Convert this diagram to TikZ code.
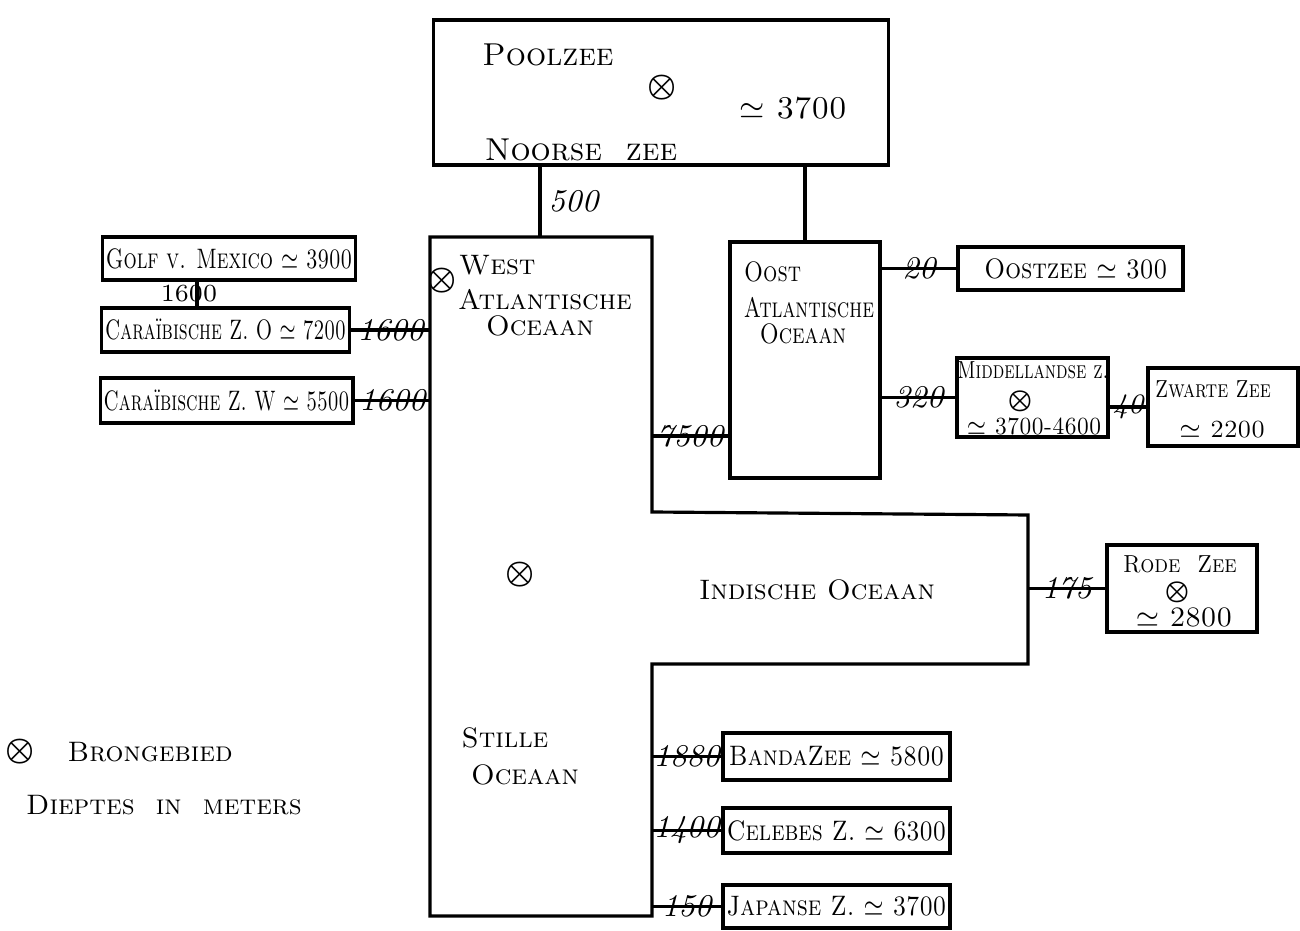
\documentclass[tikz,border=0pt]{standalone}
\usepackage{fontspec}
\usepackage{tikz}
\usetikzlibrary{positioning,calc}
\newcommand{\cnd}[2][0.8]{\scalebox{#1}[1]{#2}}
\tikzset{
  box/.style={draw, line width=0.9pt, inner sep=1pt, font=\fontsize{8}{9.5}\selectfont\scshape},
  lbl/.style={font=\fontsize{8}{10}\selectfont\scshape, inner sep=1pt},
  big/.style={lbl, font=\fontsize{9}{11}\selectfont\scshape},
  sml/.style={lbl, font=\fontsize{7}{8.5}\selectfont\scshape},
  num/.style={font=\fontsize{9}{10}\selectfont\itshape, inner sep=0pt},
  src/.style={font=\fontsize{9}{10}\selectfont\boldmath, inner sep=0pt},
  ssrc/.style={src, font=\fontsize{7}{8}\selectfont\boldmath},
  l/.style={line width=0.9pt},
}
\begin{document}
\begin{tikzpicture}[x=0.01cm,y=-0.01cm]
  \useasboundingbox (0,0) rectangle (1300,931);
  % noordelijke zeeen
  \node[box,minimum width=4.54cm,minimum height=1.45cm] (pool) at (661,92.5) {};
  \node[big] (poolt) at (548,55) {Poolzee};
  \node[src] (pools) at (662,88) {$\otimes$};
  \node[big] (poold) at (793,108) {$\simeq$ 3700};
  \node[big] (noors) at (581,150) {Noorse\ \ zee};
  % atlantische, indische en stille oceaan
  \coordinate (wa-nw) at (430,237); \coordinate (wa-ne) at (652,237);
  \coordinate (io-nw) at (652,512); \coordinate (io-ne) at (1028,515);
  \coordinate (io-se) at (1028,664); \coordinate (so-ne) at (652,664);
  \coordinate (so-se) at (652,916); \coordinate (so-sw) at (430,916);
  \draw[l] (wa-nw) -- (wa-ne) -- (io-nw) -- (io-ne) -- (io-se) -- (so-ne) -- (so-se) -- (so-sw) -- cycle;
  \node[src] (wests) at (442,281) {$\otimes$};
  \node[lbl,anchor=west] (westt) at (455,265) {West};
  \node[lbl] (westa) at (545,300) {Atlantische};
  \node[lbl] (westo) at (540,326) {Oceaan};
  \node[src] (inds) at (520,575) {$\otimes$};
  \node[lbl] (indt) at (817,590) {Indische\ Oceaan};
  \node[lbl] (stilt) at (505,738) {Stille};
  \node[lbl] (stilo) at (525,775) {Oceaan};
  \node[box,minimum width=1.50cm,minimum height=2.36cm] (oost) at (805,360) {};
  \node[lbl,anchor=west] (oostt) at (740,272) {\cnd{Oost}};
  \node[lbl] (oosta) at (809,308) {\cnd[0.75]{Atlantische}};
  \node[lbl] (oosto) at (803,334) {\cnd{Oceaan}};
  % randzeeen
  \node[box,minimum width=2.52cm,minimum height=0.43cm] (golf) at (229,258.5) {\cnd[0.74]{Golf v. Mexico $\simeq$ 3900}};
  \node[box,minimum width=2.45cm,minimum height=0.44cm] (carO) at (225.5,330) {\cnd[0.69]{Caraïbische Z. O $\simeq$ 7200}};
  \node[box,minimum width=2.47cm,minimum height=0.45cm] (carW) at (226.5,400.5) {\cnd[0.69]{Caraïbische Z. W $\simeq$ 5500}};
  \node[box,minimum width=2.25cm,minimum height=0.43cm] (oostzee) at (1070.5,268.5) {\ \cnd[0.88]{Oostzee $\simeq$ 300}};
  \node[box,minimum width=1.51cm,minimum height=0.79cm] (mid) at (1032.5,397.5) {};
  \node[sml] (midt) at (1033,370) {\cnd[0.75]{Middellandse z.}};
  \node[ssrc] (mids) at (1020,401) {$\otimes$};
  \node[sml] (midd) at (1034,426) {\cnd[0.9]{$\simeq$ 3700-4600}};
  \node[box,minimum width=1.50cm,minimum height=0.78cm] (zwart) at (1223,407) {};
  \node[sml] (zwartt) at (1213,389) {\cnd{Zwarte Zee}};
  \node[sml] (zwartd) at (1222,430) {$\simeq$ 2200};
  \node[box,minimum width=1.50cm,minimum height=0.87cm] (rode) at (1182,588.5) {};
  \node[sml] (rodet) at (1180,564) {\cnd[0.9]{Rode\ \ Zee}};
  \node[ssrc] (rodes) at (1177,592) {$\otimes$};
  \node[lbl] (rodd) at (1184,617) {$\simeq$ 2800};
  \node[box,minimum width=2.27cm,minimum height=0.47cm] (banda) at (836.5,756.5) {\cnd[0.87]{BandaZee $\simeq$ 5800}};
  \node[box,minimum width=2.27cm,minimum height=0.45cm] (celeb) at (836.5,830.5) {\cnd[0.85]{Celebes Z. $\simeq$ 6300}};
  \node[box,minimum width=2.27cm,minimum height=0.43cm] (japan) at (836.5,906.5) {\cnd[0.86]{Japanse Z. $\simeq$ 3700}};
  % verbindingen met drempeldiepte
  \coordinate (d500) at (540,237); \coordinate (d7500) at (652,436);
  \coordinate (d1600) at (197,0);
  \draw[l] (d500 |- pool.south) -- node[num,right=2pt] {500} (d500);
  \draw[l] (oost.north |- pool.south) -- (oost.north);
  \draw[l] (d1600 |- golf.south) -- node[num,font=\fontsize{7}{8}\selectfont,xshift=-0.8mm] {1600} (d1600 |- carO.north);
  \draw[l] (carO.east) -- node[num] {1600} (carO.east -| wa-nw);
  \draw[l] (carW.east) -- node[num] {1600} (carW.east -| wa-nw);
  \draw[l] (d7500) -- node[num] {7500} (d7500 -| oost.west);
  \draw[l] (oostzee.west -| oost.east) -- node[num] {20} (oostzee.west);
  \draw[l] (mid.west -| oost.east) -- node[num] {320} (mid.west);
  \draw[l] (zwart.west -| mid.east) -- node[num,font=\fontsize{8}{9}\selectfont\itshape] {40} (zwart.west);
  \draw[l] (rode.west -| io-ne) -- node[num] {175} (rode.west);
  \draw[l] (banda.west -| so-ne) -- node[num] {1880} (banda.west);
  \draw[l] (celeb.west -| so-ne) -- node[num] {1400} (celeb.west);
  \draw[l] (japan.west -| so-ne) -- node[num] {150} (japan.west);
  % legenda
  \node[src] (legs) at (20,752) {$\otimes$};
  \node[lbl,right=8pt of legs] (legt) {Brongebied};
  \node[lbl,anchor=west] (legd) at (22,805) {Dieptes\ \ in\ \ meters};
\end{tikzpicture}
\end{document}
